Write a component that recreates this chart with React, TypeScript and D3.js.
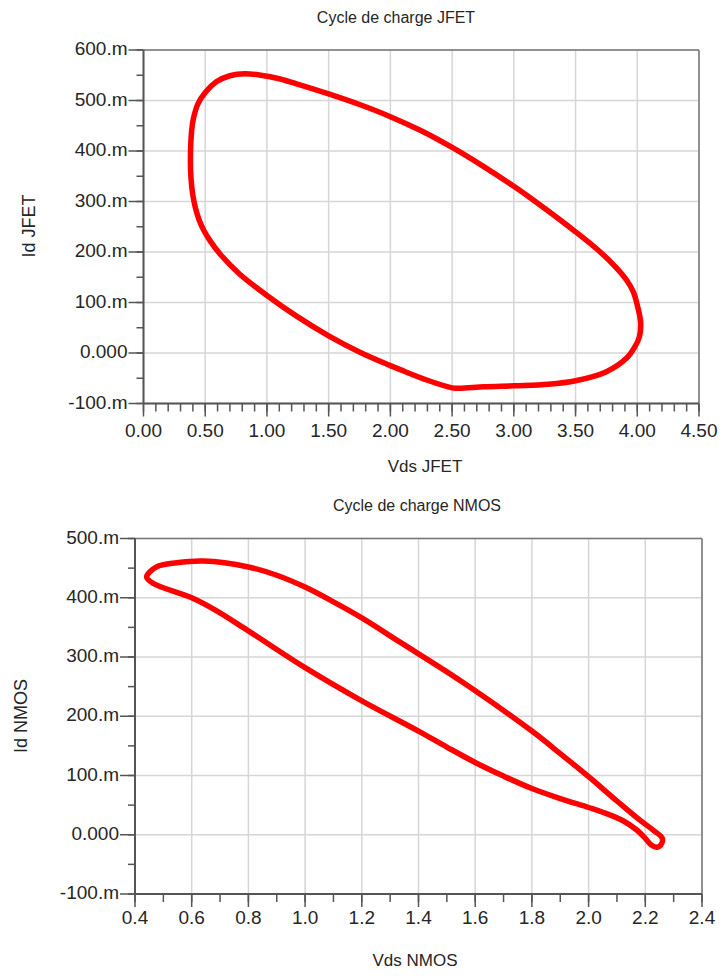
import React from 'react';
import * as d3 from 'd3';

// JFET load cycle (Vds in V, Id in mA)
const jfetVds = [0.70, 0.82, 0.95, 1.1, 1.24, 1.5, 1.75, 2.0, 2.25, 2.5, 2.75, 3.0, 3.185, 3.5, 3.70, 3.833, 3.914, 3.968, 4.003, 4.028, 4.017, 3.98, 3.914, 3.75, 3.50, 3.28, 3.01, 2.76, 2.56, 2.5, 2.30, 2.08, 2.0, 1.757, 1.5, 1.24, 1.0, 0.78, 0.62, 0.54, 0.49, 0.45, 0.42, 0.40, 0.385, 0.38, 0.39, 0.405, 0.44, 0.50, 0.59];
const jfetId = [549, 553, 550, 543, 533, 513, 492, 468, 440, 407, 370, 330, 298, 240, 200, 168, 144, 121, 92, 59, 32, 12, -10, -37, -55, -62, -65, -67, -70, -69, -54, -33, -25, 1, 34, 73, 114, 156, 196, 222, 242, 264, 288, 312, 345, 381, 440, 465, 493, 516, 537];

// NMOS load cycle (Vds in V, Id in mA)
const nmosVds = [0.441, 0.476, 0.547, 0.641, 0.8, 0.9, 1.0, 1.1, 1.2, 1.335, 1.548, 1.8, 1.9, 2.0, 2.1, 2.18, 2.23, 2.26, 2.255, 2.24, 2.22, 2.2, 2.17, 2.12, 2.05, 2.0, 1.9, 1.8, 1.7, 1.6, 1.5, 1.4, 1.2, 1.0, 0.797, 0.688, 0.6, 0.465];
const nmosId = [435, 452, 459, 462, 452, 438, 418, 393, 366, 325, 260, 175, 137, 98, 57, 25, 7, -6, -17, -21, -17, -6, 8, 24, 38, 46, 61, 78, 99, 122, 148, 175, 226, 282, 345, 378, 400, 424];

const jfetXTicks = [0, 0.5, 1, 1.5, 2, 2.5, 3, 3.5, 4, 4.5];
const jfetYTicks = [-100, 0, 100, 200, 300, 400, 500, 600];
const nmosXTicks = [0.4, 0.6, 0.8, 1.0, 1.2, 1.4, 1.6, 1.8, 2.0, 2.2, 2.4];
const nmosYTicks = [-100, 0, 100, 200, 300, 400, 500];

const FONT = '"Liberation Sans", Arial, sans-serif';
const TXT = '#262626';

const yFmt = (v: number) => (v === 0 ? '0.000' : `${v}.m`);

type ChartProps = {
  title: string; titleX: number; titleY: number;
  xLabel: string; xLabelX: number; xLabelY: number;
  yLabel: string; yLabelX: number; yLabelY: number;
  xs: number[]; ys: number[];
  xTicks: number[]; yTicks: number[];
  xMinor: number; yMinor: number;
  xFmt: (v: number) => string;
  xTickLabelDy: number;
  left: number; right: number; top: number; bottom: number;
};

function Chart(p: ChartProps) {
  const xDom = [p.xTicks[0], p.xTicks[p.xTicks.length - 1]];
  const yDom = [p.yTicks[0], p.yTicks[p.yTicks.length - 1]];
  const x = d3.scaleLinear().domain(xDom).range([p.left, p.right]);
  const y = d3.scaleLinear().domain(yDom).range([p.bottom, p.top]);
  const xMinorTicks = d3.range(xDom[0], xDom[1] + 1e-9, p.xMinor).map((v) => +v.toFixed(6));
  const yMinorTicks = d3.range(yDom[0], yDom[1] + 1e-9, p.yMinor);
  const pts = p.xs.map((v, i) => [v, p.ys[i]] as [number, number]);
  const line = d3.line<[number, number]>()
    .x((d) => x(d[0]))
    .y((d) => y(d[1]))
    .curve(d3.curveCatmullRomClosed.alpha(0.5));
  return (
    <g fontFamily={FONT} fill={TXT}>
      <text x={p.titleX} y={p.titleY} textAnchor="middle" fontSize={16} dominantBaseline="middle">{p.title}</text>
      {p.xTicks.map((t) => (
        <line key={'gx' + t} x1={x(t)} x2={x(t)} y1={p.top} y2={p.bottom} stroke="#d6d6d6" strokeWidth={1.5} />
      ))}
      {p.yTicks.map((t) => (
        <line key={'gy' + t} x1={p.left} x2={p.right} y1={y(t)} y2={y(t)} stroke="#d6d6d6" strokeWidth={1.5} />
      ))}
      <line x1={p.left} x2={p.right} y1={p.top} y2={p.top} stroke="#777" strokeWidth={1.5} />
      <line x1={p.right} x2={p.right} y1={p.top} y2={p.bottom} stroke="#777" strokeWidth={1.5} />
      <path d={line(pts) || ''} fill="none" stroke="#ff0000" strokeWidth={5.5} strokeLinejoin="round" />
      <line x1={p.left} x2={p.left} y1={p.top} y2={p.bottom} stroke="#555" strokeWidth={2} />
      <line x1={p.left} x2={p.right} y1={p.bottom} y2={p.bottom} stroke="#555" strokeWidth={2} />
      {yMinorTicks.map((t) => (
        <line key={'my' + t} x1={p.left - 7} x2={p.left} y1={y(t)} y2={y(t)} stroke="#555" strokeWidth={1.5} />
      ))}
      {p.yTicks.map((t) => (
        <g key={'ty' + t}>
          <line x1={p.left - 15} x2={p.left} y1={y(t)} y2={y(t)} stroke="#555" strokeWidth={1.5} />
          <text x={p.left - 16} y={y(t)} textAnchor="end" dominantBaseline="middle" fontSize={19}>{yFmt(t)}</text>
        </g>
      ))}
      {xMinorTicks.map((t) => (
        <line key={'mx' + t} x1={x(t)} x2={x(t)} y1={p.bottom} y2={p.bottom + 8} stroke="#555" strokeWidth={1.5} />
      ))}
      {p.xTicks.map((t) => (
        <g key={'tx' + t}>
          <line x1={x(t)} x2={x(t)} y1={p.bottom} y2={p.bottom + 13} stroke="#555" strokeWidth={1.5} />
          <text x={x(t)} y={p.bottom + p.xTickLabelDy} textAnchor="middle" dominantBaseline="middle" fontSize={19}>{p.xFmt(t)}</text>
        </g>
      ))}
      <text x={p.xLabelX} y={p.xLabelY} textAnchor="middle" dominantBaseline="middle" fontSize={17}>{p.xLabel}</text>
      <text transform={`translate(${p.yLabelX},${p.yLabelY}) rotate(-90)`} textAnchor="middle" dominantBaseline="middle" fontSize={18}>{p.yLabel}</text>
    </g>
  );
}

export default function App() {
  return (
    <svg width={720} height={976} style={{ position: 'absolute', left: 0, top: 0, background: '#fff' }}>
      <rect x={0} y={0} width={720} height={976} fill="#fff" />
      <Chart
        title="Cycle de charge JFET" titleX={396} titleY={19}
        xLabel="Vds JFET" xLabelX={425} xLabelY={468}
        yLabel="Id JFET" yLabelX={30} yLabelY={226}
        xs={jfetVds} ys={jfetId}
        xTicks={jfetXTicks} yTicks={jfetYTicks}
        xMinor={0.1} yMinor={50}
        xFmt={(v) => v.toFixed(2)}
        xTickLabelDy={28}
        left={143.5} right={699} top={50} bottom={403.5}
      />
      <Chart
        title="Cycle de charge NMOS" titleX={417} titleY={507}
        xLabel="Vds NMOS" xLabelX={415} xLabelY={962}
        yLabel="Id NMOS" yLabelX={22} yLabelY={716}
        xs={nmosVds} ys={nmosId}
        xTicks={nmosXTicks} yTicks={nmosYTicks}
        xMinor={0.1} yMinor={50}
        xFmt={(v) => v.toFixed(1)}
        xTickLabelDy={25}
        left={135} right={702} top={538.5} bottom={894}
      />
    </svg>
  );
}
